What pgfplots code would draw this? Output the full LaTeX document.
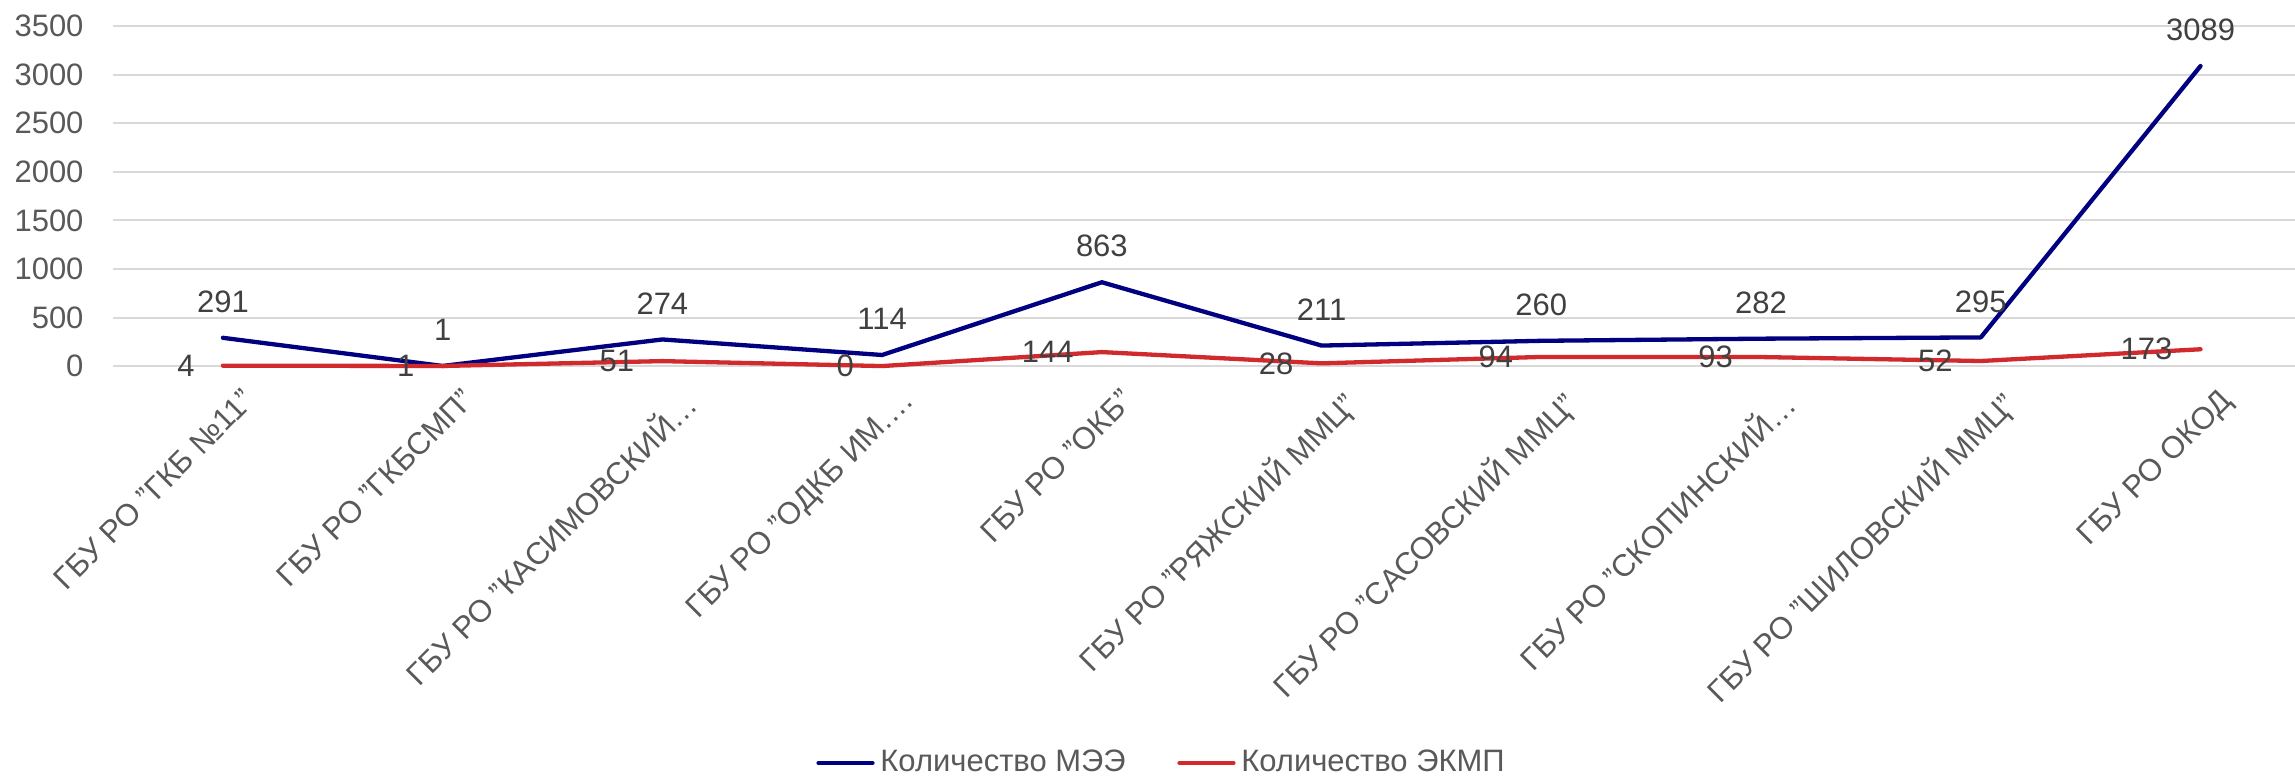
\documentclass[border=0pt]{standalone}
\usepackage{fontspec}
\setmainfont{Liberation Sans}
\usepackage{pgfplots}
\pgfplotsset{compat=1.18}
\definecolor{meecol}{RGB}{0,0,128}
\definecolor{ekmpcol}{RGB}{209,42,44}
\definecolor{gridcol}{RGB}{217,217,217}
\definecolor{tickcol}{RGB}{89,89,89}
\definecolor{labcol}{RGB}{64,64,64}
\newcommand{\chfont}{\fontsize{10.8}{13}\selectfont}

\begin{document}
\begin{tikzpicture}
\begin{axis}[
  scale only axis,
  width=760.6pt, height=118.5pt,
  xmin=-0.5, xmax=9.43,
  ymin=0, ymax=3500,
  ytick={0,500,...,3500},
  xtick={0,...,9},
  xticklabels={
    {ГБУ РО "ГКБ №11"},
    {ГБУ РО "ГКБСМП"},
    {ГБУ РО "КАСИМОВСКИЙ…},
    {ГБУ РО "ОДКБ ИМ.…},
    {ГБУ РО "ОКБ"},
    {ГБУ РО "РЯЖСКИЙ ММЦ"},
    {ГБУ РО "САСОВСКИЙ ММЦ"},
    {ГБУ РО "СКОПИНСКИЙ…},
    {ГБУ РО "ШИЛОВСКИЙ ММЦ"},
    {ГБУ РО ОКОД}},
  /pgf/number format/1000 sep={},
  /pgf/number format/assume math mode=true,
  axis line style={draw=none},
  major tick length=0pt,
  ymajorgrids,
  grid style={gridcol, line width=0.7pt},
  tick label style={font=\chfont, text=tickcol},
  yticklabel style={anchor=east, inner sep=0pt, xshift=-10.1pt},
  xticklabel style={rotate=45, anchor=north east, inner sep=0pt, yshift=-9.4pt, xshift=-0.7pt},
  clip=false,
  legend columns=2,
  legend style={at={(0.4814,-1.1676)}, anchor=center, draw=none, fill=none,
    font=\chfont, text=tickcol,
    /tikz/every even column/.append style={column sep=16pt}},
  legend image code/.code={\draw[#1] (0pt,0pt) -- (18.8pt,0pt);},
]
% Количество МЭЭ
\addplot[meecol, line width=1.5pt, line join=round, line cap=round,
  nodes near coords,
  every node near coord/.append style={anchor=center, yshift=12.55pt, font=\chfont, text=labcol}]
  coordinates {(0,291)(1,1)(2,274)(3,114)(4,863)(5,211)(6,260)(7,282)(8,295)(9,3089)};
\addlegendentry{Количество МЭЭ}
% Количество ЭКМП
\addplot[ekmpcol, line width=1.5pt, line join=round, line cap=round,
  nodes near coords,
  every node near coord/.append style={anchor=east, inner sep=0pt, xshift=-9.1pt, font=\chfont, text=labcol}]
  coordinates {(0,4)(1,1)(2,51)(3,0)(4,144)(5,28)(6,94)(7,93)(8,52)(9,173)};
\addlegendentry{Количество ЭКМП}
\end{axis}
\pgfresetboundingbox
\useasboundingbox (-39.4pt,-143.6pt) rectangle (760.6pt,127.6pt);
\end{tikzpicture}
\end{document}
